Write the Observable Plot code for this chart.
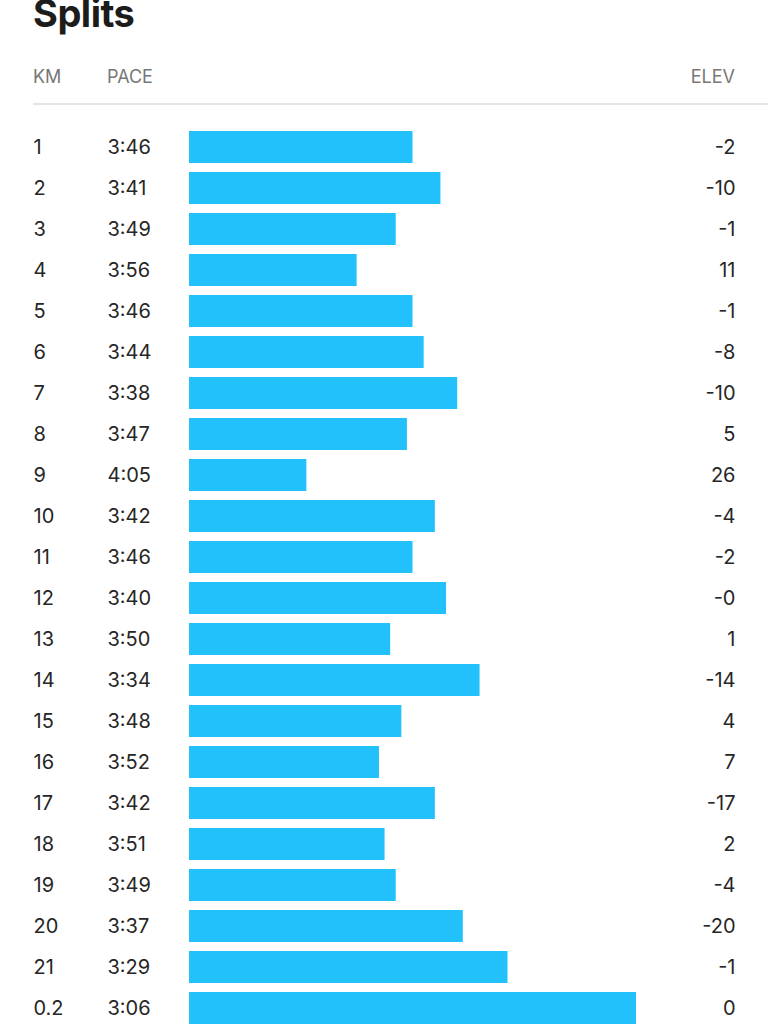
<!DOCTYPE html>
<html>
<head>
<meta charset="utf-8">
<script src="https://cdn.jsdelivr.net/npm/d3@7"></script>
<script src="https://cdn.jsdelivr.net/npm/@observablehq/plot@0.6"></script>
<style>
  html, body { margin: 0; padding: 0; background: #fff; overflow: hidden; }
  body { width: 768px; height: 1024px; position: relative; font-family: Inter, "Noto Sans", sans-serif; }
  #title { position: absolute; left: 33px; top: -10px; font-size: 38px; font-weight: 700; color: #1c1c1c; letter-spacing: -0.5px; }
  .hdr { position: absolute; top: 66px; font-size: 18px; color: #777; }
  #rule { position: absolute; left: 33px; right: 0; top: 103px; height: 2px; background: #e4e4e4; }
  #chart { position: absolute; left: 0; top: 106px; }
</style>
</head>
<body>
<div id="title">Splits</div>
<div class="hdr" style="left:33px">KM</div>
<div class="hdr" style="left:107px">PACE</div>
<div class="hdr" style="right:33px">ELEV</div>
<div id="rule"></div>
<div id="chart"></div>
<script>
const km = ["1","2","3","4","5","6","7","8","9","10","11","12","13","14","15","16","17","18","19","20","21","0.2"];
const pace = ["3:46","3:41","3:49","3:56","3:46","3:44","3:38","3:47","4:05","3:42","3:46","3:40","3:50","3:34","3:48","3:52","3:42","3:51","3:49","3:37","3:29","3:06"];
const elev = ["-2","-10","-1","11","-1","-8","-10","5","26","-4","-2","-0","1","-14","4","7","-17","2","-4","-20","-1","0"];
const paceScaleDomain = [266, 186]; // slowest (bar zero) to fastest, seconds per km

const toSec = s => { const [m, ss] = s.split(":").map(Number); return m * 60 + ss; };
const rows = km.map((k, i) => ({km: k, pace: pace[i], sec: toSec(pace[i]), elev: elev[i]}));

const chart = Plot.plot({
  width: 768,
  height: 930,
  marginLeft: 0,
  marginRight: 0,
  marginTop: 0,
  marginBottom: 0,
  style: {fontFamily: "Inter, 'Noto Sans', sans-serif", background: "#fff"},
  x: {type: "linear", domain: paceScaleDomain, range: [189, 636], axis: null},
  y: {type: "band", domain: km, range: [20.5, 20.5 + 22 * 41], paddingInner: 0.22, paddingOuter: 0.11, axis: null},
  marks: [
    Plot.barX(rows, {y: "km", x1: () => paceScaleDomain[0], x2: "sec", fill: "#22c1fb"}),
    Plot.text(rows, {y: "km", text: "km", frameAnchor: "left", textAnchor: "start", dx: 33, fontSize: 20, fill: "#262626"}),
    Plot.text(rows, {y: "km", text: "pace", frameAnchor: "left", textAnchor: "start", dx: 107, fontSize: 20, fill: "#262626"}),
    Plot.text(rows, {y: "km", text: "elev", frameAnchor: "right", textAnchor: "end", dx: -33, fontSize: 20, fill: "#262626"})
  ]
});
document.getElementById("chart").appendChild(chart);
</script>
</body>
</html>
